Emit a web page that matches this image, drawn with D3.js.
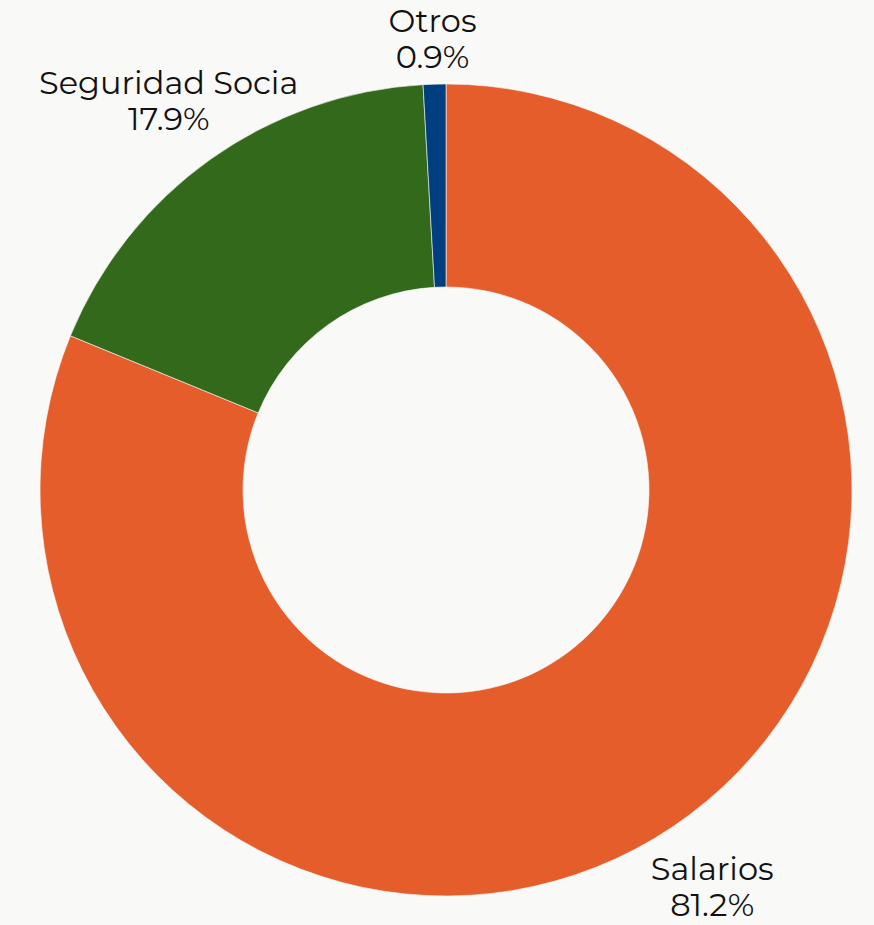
<!DOCTYPE html>
<html>
<head>
<meta charset="utf-8">
<script src="https://cdn.jsdelivr.net/npm/d3@7"></script>
<style>
  html, body { margin: 0; padding: 0; background: #f9f9f8; }
  svg { display: block; }
</style>
</head>
<body>
<svg id="chart"></svg>
<script>
// donut data
const categories = ["Salarios", "Seguridad Socia", "Otros"];
const shares = [81.2, 17.9, 0.9];
const colors = ["#e45d2b", "#33691a", "#003f7f"];

const width = 874, height = 925;
const cx = 446, cy = 490;
const outerR = 406, innerR = 203, labelR = 478;

const svg = d3.select("#chart")
    .attr("width", width)
    .attr("height", height);

const g = svg.append("g").attr("transform", `translate(${cx},${cy})`);

const pie = d3.pie().sort(null).value(d => d.value);
const arcs = pie(categories.map((c, i) => ({ name: c, value: shares[i], color: colors[i] })));

const arc = d3.arc().innerRadius(innerR).outerRadius(outerR);
const labelArc = d3.arc().innerRadius(labelR).outerRadius(labelR);

g.selectAll("path")
    .data(arcs)
    .join("path")
    .attr("d", arc)
    .attr("fill", d => d.data.color)
    .attr("stroke", "#f9f9f8")
    .attr("stroke-width", 0.6);

const lineH = 36;
const fontSize = 32;

const label = g.selectAll("text.lbl")
    .data(arcs)
    .join("text")
    .attr("class", "lbl")
    .attr("text-anchor", "middle")
    .style("font-family", "Montserrat, 'Noto Sans', sans-serif")
    .style("font-size", fontSize + "px")
    .attr("fill", "#111")
    .attr("transform", d => {
        let [x, y] = labelArc.centroid(d);
        // keep the label block inside the top of the frame
        const minY = -cy + 39;
        if (y < minY) y = minY;
        return `translate(${x},${y})`;
    });

label.append("tspan")
    .attr("x", 0)
    .attr("y", -7)
    .text(d => d.data.name);

label.append("tspan")
    .attr("x", 0)
    .attr("y", -7 + lineH)
    .text(d => d3.format(".1f")(d.data.value) + "%");
</script>
</body>
</html>
